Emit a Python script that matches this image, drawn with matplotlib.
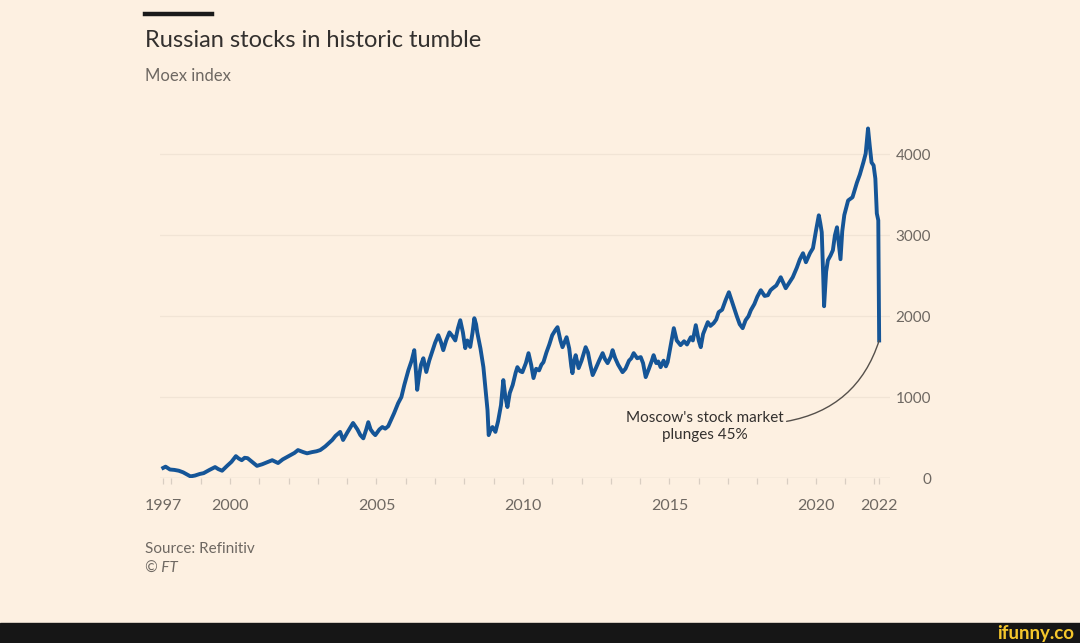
import matplotlib
matplotlib.use("Agg")
import matplotlib.pyplot as plt
from matplotlib.patches import Rectangle
from matplotlib.lines import Line2D

# ---- data ----
years = [1997.72, 1997.80, 1997.95, 1998.10, 1998.25, 1998.40, 1998.55, 1998.65, 1998.80, 1998.97,
         1999.10, 1999.30, 1999.49, 1999.60, 1999.73, 1999.90, 2000.05, 2000.20, 2000.30, 2000.40,
         2000.50, 2000.60, 2000.75, 2000.92, 2001.10, 2001.30, 2001.44, 2001.55, 2001.64, 2001.80,
         2002.00, 2002.20, 2002.32, 2002.50, 2002.63, 2002.80, 2002.95, 2003.08, 2003.25, 2003.40,
         2003.49, 2003.60, 2003.76, 2003.86, 2004.00, 2004.10, 2004.20, 2004.35, 2004.45, 2004.55,
         2004.65, 2004.72, 2004.80, 2004.89, 2004.96, 2005.10, 2005.20, 2005.30, 2005.40, 2005.50,
         2005.60, 2005.74, 2005.85, 2005.95, 2006.09, 2006.20, 2006.29, 2006.35, 2006.39, 2006.45,
         2006.52, 2006.60, 2006.70, 2006.80, 2006.90, 2007.00, 2007.11, 2007.20, 2007.28, 2007.38,
         2007.49, 2007.60, 2007.69, 2007.78, 2007.86, 2007.95, 2008.03, 2008.10, 2008.20, 2008.28,
         2008.34, 2008.40, 2008.44, 2008.55, 2008.65, 2008.72, 2008.79, 2008.83, 2008.90, 2008.96,
         2009.06, 2009.15, 2009.25, 2009.33, 2009.40, 2009.47, 2009.55, 2009.65, 2009.75, 2009.81,
         2009.90, 2009.98, 2010.10, 2010.19, 2010.28, 2010.36, 2010.45, 2010.55, 2010.63, 2010.70,
         2010.80, 2010.90, 2011.00, 2011.11, 2011.18, 2011.28, 2011.35, 2011.42, 2011.49, 2011.58,
         2011.65, 2011.69, 2011.75, 2011.80, 2011.90, 2012.00, 2012.14, 2012.22, 2012.30, 2012.38,
         2012.48, 2012.60, 2012.72, 2012.80, 2012.89, 2013.00, 2013.06, 2013.15, 2013.25, 2013.40,
         2013.50, 2013.62, 2013.70, 2013.78, 2013.90, 2014.02, 2014.10, 2014.19, 2014.30, 2014.40,
         2014.46, 2014.55, 2014.62, 2014.70, 2014.80, 2014.88, 2014.94, 2015.05, 2015.15, 2015.25,
         2015.38, 2015.50, 2015.60, 2015.73, 2015.80, 2015.90, 2016.00, 2016.07, 2016.15, 2016.31,
         2016.40, 2016.51, 2016.60, 2016.68, 2016.80, 2016.92, 2017.03, 2017.10, 2017.20, 2017.30,
         2017.40, 2017.50, 2017.60, 2017.70, 2017.78, 2017.90, 2018.00, 2018.12, 2018.25, 2018.36,
         2018.45, 2018.53, 2018.65, 2018.80, 2018.90, 2018.97, 2019.10, 2019.21, 2019.35, 2019.45,
         2019.56, 2019.66, 2019.80, 2019.90, 2020.00, 2020.10, 2020.15, 2020.20, 2020.25, 2020.28,
         2020.35, 2020.41, 2020.50, 2020.58, 2020.65, 2020.72, 2020.78, 2020.84, 2020.90, 2020.97,
         2021.10, 2021.25, 2021.40, 2021.50, 2021.62, 2021.70, 2021.78, 2021.84, 2021.90, 2021.97,
         2022.03, 2022.08, 2022.13, 2022.16]
moex = [125, 140, 105, 100, 90, 70, 40, 20, 30, 50,
        60, 100, 135, 110, 90, 150, 200, 270, 240, 220,
        250, 245, 200, 150, 170, 200, 220, 200, 185, 230,
        270, 310, 345, 320, 305, 320, 330, 345, 390, 440,
        470, 520, 570, 470, 560, 620, 680, 600, 530, 490,
        600, 690, 600, 555, 530, 600, 630, 610, 640, 720,
        800, 925, 1000, 1150, 1333, 1450, 1580, 1300, 1090, 1250,
        1400, 1480, 1310, 1450, 1560, 1670, 1765, 1680, 1580, 1700,
        1800, 1750, 1700, 1850, 1950, 1800, 1605, 1700, 1620, 1800,
        1975, 1900, 1800, 1600, 1370, 1100, 840, 530, 600, 630,
        570, 700, 900, 1210, 1000, 877, 1050, 1150, 1300, 1370,
        1320, 1308, 1420, 1543, 1400, 1235, 1350, 1330, 1400, 1432,
        1550, 1650, 1765, 1830, 1864, 1700, 1617, 1680, 1740, 1600,
        1380, 1296, 1450, 1518, 1358, 1450, 1617, 1550, 1400, 1272,
        1350, 1450, 1543, 1470, 1420, 1500, 1580, 1480, 1400, 1308,
        1350, 1450, 1480, 1543, 1480, 1494, 1420, 1247, 1350, 1450,
        1518, 1420, 1440, 1370, 1450, 1380, 1432, 1650, 1852, 1700,
        1642, 1690, 1650, 1740, 1700, 1889, 1700, 1617, 1780, 1926,
        1880, 1914, 1960, 2049, 2080, 2200, 2296, 2220, 2111, 2000,
        1900, 1852, 1950, 2000, 2074, 2150, 2240, 2321, 2250, 2259,
        2320, 2346, 2380, 2481, 2400, 2346, 2420, 2481, 2600, 2700,
        2778, 2667, 2780, 2840, 3050, 3247, 3150, 3037, 2500, 2123,
        2550, 2691, 2750, 2815, 3000, 3099, 2900, 2704, 3050, 3250,
        3430, 3470, 3650, 3750, 3900, 4010, 4320, 4100, 3900, 3864,
        3700, 3270, 3185, 1700]

x_tick_pos = [1997.72, 2000, 2005, 2010, 2015, 2020, 2022.16]
x_tick_labels = ["1997", "2000", "2005", "2010", "2015", "2020", "2022"]
minor_years = list(range(1998, 2023))
y_ticks = [0, 1000, 2000, 3000, 4000]
y_tick_labels = ["0", "1000", "2000", "3000", "4000"]

title = "Russian stocks in historic tumble"
subtitle = "Moex index"
annotation = "Moscow's stock market\nplunges 45%"

# ---- style ----
BG = "#fdf0e1"
LINE = "#155597"
TXT = "#33302e"
GRAY = "#6e6862"
FONT = ["Lato", "DejaVu Sans"]
plt.rcParams["font.family"] = FONT

W, H = 1080, 643
fig = plt.figure(figsize=(W / 100, H / 100), dpi=100, facecolor=BG)

left_px, right_px, top_px, bot_px = 160, 890, 122, 478
ax = fig.add_axes([left_px / W, 1 - bot_px / H, (right_px - left_px) / W, (bot_px - top_px) / H])
ax.set_facecolor(BG)

ax.set_xlim(1997.61, 2022.53)
ax.set_ylim(0, 4400)

for s in ax.spines.values():
    s.set_visible(False)

for v in y_ticks[1:]:
    ax.axhline(v, color="#f1e4d5", lw=0.9, zorder=0)
ax.axhline(0, color="#ddd2c6", lw=1.0, zorder=1)

ax.plot(years, moex, color=LINE, lw=2.8, solid_joinstyle="round", zorder=3)

ax.set_xticks(x_tick_pos)
ax.set_xticklabels(x_tick_labels)
ax.set_xticks(minor_years, minor=True)
ax.tick_params(axis="x", which="both", length=4, width=0.9, color="#d9cec2",
               pad=11, labelsize=11.5, labelcolor=GRAY)

ax.yaxis.tick_right()
ax.set_yticks(y_ticks)
ax.set_yticklabels(y_tick_labels)
ax.tick_params(axis="y", length=0, pad=29.5, labelsize=11, labelcolor=GRAY)
for lab in ax.get_yticklabels():
    lab.set_horizontalalignment("right")

# annotation
ax.text(2016.2, 640, annotation, ha="center", va="center", fontsize=11,
        color=TXT, linespacing=1.25)
ax.annotate("", xy=(years[-1], moex[-1]), xytext=(2019.0, 700),
            arrowprops=dict(arrowstyle="-", color="#55504b", lw=1.0,
                            connectionstyle="arc3,rad=0.3", shrinkA=0, shrinkB=0))

# header
fig.add_artist(Line2D([145 / W, 212 / W], [1 - 14 / H, 1 - 14 / H], color="#1a1a1a", lw=3.2))
fig.text(145 / W, 1 - 47 / H, title, ha="left", va="baseline", fontsize=17, color=TXT)
fig.text(145 / W, 1 - 81 / H, subtitle, ha="left", va="baseline", fontsize=12, color=GRAY)

# footer
fig.text(145 / W, 1 - 553 / H, "Source: Refinitiv", ha="left", va="baseline", fontsize=11, color=GRAY)
fig.text(145 / W, 1 - 573 / H, "© FT", ha="left", va="baseline", fontsize=11, color=GRAY, style="italic")

# bottom band
fig.add_artist(Rectangle((0, 0), 1, 20 / H, transform=fig.transFigure, color="#161616", zorder=5))
fig.text(1074 / W, 10 / H, "ifunny.co", ha="right", va="center", fontsize=13.5,
         weight="bold", color="#f5c72c", zorder=6)

fig.savefig("out.png", dpi=100, facecolor=BG)
